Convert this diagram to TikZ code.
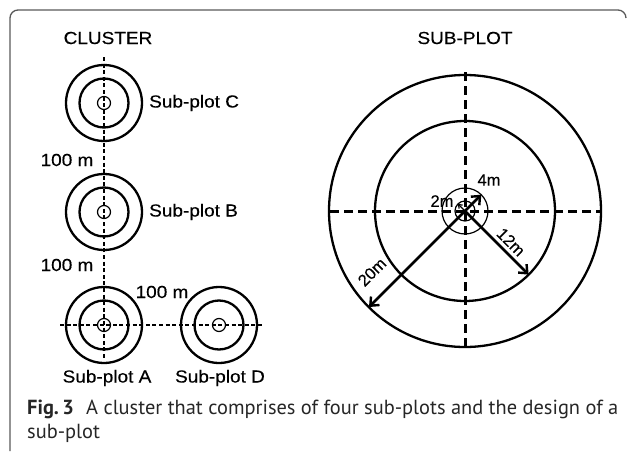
\documentclass[tikz,border=0pt]{standalone}
\usepackage{fontspec}
\setmainfont{Liberation Sans}
\newfontfamily\diagfont{Liberation Sans}[UprightFeatures={FakeBold=0.35}]
\newfontfamily\capfont{PT Sans}
\usetikzlibrary{arrows.meta}
\begin{document}
\begin{tikzpicture}[x=1pt,y=-1pt,
  lbl/.style={font=\diagfont\fontsize{19}{22}\selectfont, inner sep=0pt, yscale=0.92},
  small/.style={font=\diagfont\fontsize{16.5}{18}\selectfont, inner sep=0pt},
  ring/.style={line width=2.3pt},
  thinring/.style={line width=1.2pt},
  cdash/.style={line width=1.8pt, dash pattern=on 4pt off 2.6pt},
  sdash/.style={line width=3pt, dash pattern=on 9pt off 5pt},
  radius arrow/.style={line width=2.6pt, -{Straight Barb[length=7pt,width=12pt,line width=2.4pt]}},
  frame/.style={draw=black!65, line width=1.3pt, rounded corners=8pt},
  captext/.style={anchor=west, inner sep=0pt, text=black!85, font=\capfont\fontsize{20.4}{24}\selectfont}]
\useasboundingbox (0,0) rectangle (629,455);

% outer panel frame
\draw[frame] (10,451) -- (10,10) -- (626,10) -- (626,18);

% ---------- cluster ----------
\node[lbl] (clusterTitle) at (108,38) {CLUSTER};
\coordinate (C) at (104,103);
\coordinate (B) at (104,212);
\coordinate (A) at (104,325);
\coordinate (D) at (219,325);
\coordinate (vtop) at (104,57);
\coordinate (vbot) at (104,358);
\coordinate (hl) at (60,325);
\coordinate (hr) at (263,325);
\foreach \p in {A,B,C,D}{
  \draw[ring] (\p) circle (38);
  \draw[ring] (\p) circle (24.5);
  \draw[thinring] (\p) circle (6.5);
}
\draw[cdash] (vtop) -- (vbot);
\draw[cdash] (hl) -- (hr);
\node[lbl, anchor=west] (labC) at (149,103) {Sub-plot C};
\node[lbl, anchor=west] (labB) at (149,212) {Sub-plot B};
\node[lbl] (labA) at (107,378) {Sub-plot A};
\node[lbl] (labD) at (220,378) {Sub-plot D};
\node[lbl] (dCB) at (67,160) {100 m};
\node[lbl] (dBA) at (67,265) {100 m};
\node[lbl] (dAD) at (162,292) {100 m};

% ---------- sub-plot ----------
\node[lbl] (subTitle) at (465,38) {SUB-PLOT};
\coordinate (S) at (465,211);
\coordinate (stop) at (465,72);
\coordinate (sbot) at (465,349);
\coordinate (sl) at (330,211);
\coordinate (sr) at (600,211);
\draw[ring] (S) circle (136);
\draw[ring] (S) circle (90);
\draw[thinring] (S) circle (23);
\draw[thinring] (S) circle (10);
\draw[sdash] (stop) -- (sbot);
\draw[sdash] (sl) -- (sr);
\draw[radius arrow] (S) -- ([shift={(16.3,-16.3)}]S);
\draw[radius arrow] (S) -- ([shift={(63.6,63.6)}]S);
\draw[radius arrow] (S) -- ([shift={(-96,96)}]S);
\draw[line width=1.2pt, -{Straight Barb[length=3pt,width=5pt]}] (S) -- ([shift={(-7,-7)}]S);
\node[small] (m4) at (489,180) {4m};
\node[small] (m2) at (442,201) {2m};
\node[small, rotate=-45] (m12) at (511,242) {12m};
\node[small, rotate=45] (m20) at (372,272) {20m};

% ---------- caption ----------
\node[captext] (cap1) at (27,409) {\textbf{Fig.\,3}\hspace{0.6em}A cluster that comprises of four sub-plots and the design of a};
\node[captext] (cap2) at (27,433) {sub-plot};
\end{tikzpicture}
\end{document}
